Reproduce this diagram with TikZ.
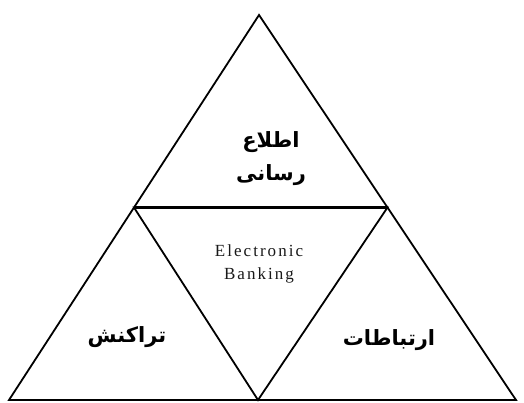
\documentclass[tikz,border=0pt]{standalone}
\usepackage{fontspec}
\setmainfont{Liberation Serif}
\newfontfamily\arabicfont[Script=Arabic]{DejaVu Sans}
\TeXXeTstate=1
\usepackage{tikz}
\usetikzlibrary{calc}

\begin{document}
\begin{tikzpicture}[x=1pt, y=-1pt, line join=miter,
    edge/.style={line width=1.8pt},
    label fa/.style={font=\arabicfont\bfseries\fontsize{21}{33}\selectfont, align=center},
    label en/.style={font=\fontsize{17}{23}\selectfont\addfontfeature{LetterSpace=12}, text=black!90, align=center}]
    \useasboundingbox (0,0) rectangle (524,402);
    % 1. Các đỉnh
    \coordinate (apex) at (259,15);
    \coordinate (baseL) at (9,400);
    \coordinate (baseR) at (516,400);
    \coordinate (midL) at ($(apex)!0.5!(baseL)$);
    \coordinate (midR) at ($(apex)!0.5!(baseR)$);
    \coordinate (baseM) at (258,400);

    % 2. Tam giác lớn và tam giác giữa
    \draw[edge] (apex) -- (baseL) -- (baseR) -- cycle;
    \draw[edge] (midL) -- (midR) -- (baseM) -- cycle;
    \draw[line width=2.6pt] (midL) -- (midR);

    % 3. Nhãn
    \node[label fa] (info) at (271,159) {\beginR اطلاع\endR\\\beginR رسانی\endR};
    \node[label en] (ebank) at (259,264) {Electronic\\Banking};
    \node[label fa] (trans) at (127,337) {\beginR تراکنش\endR};
    \node[label fa] (comm) at (389,340) {\beginR ارتباطات\endR};
\end{tikzpicture}
\end{document}
